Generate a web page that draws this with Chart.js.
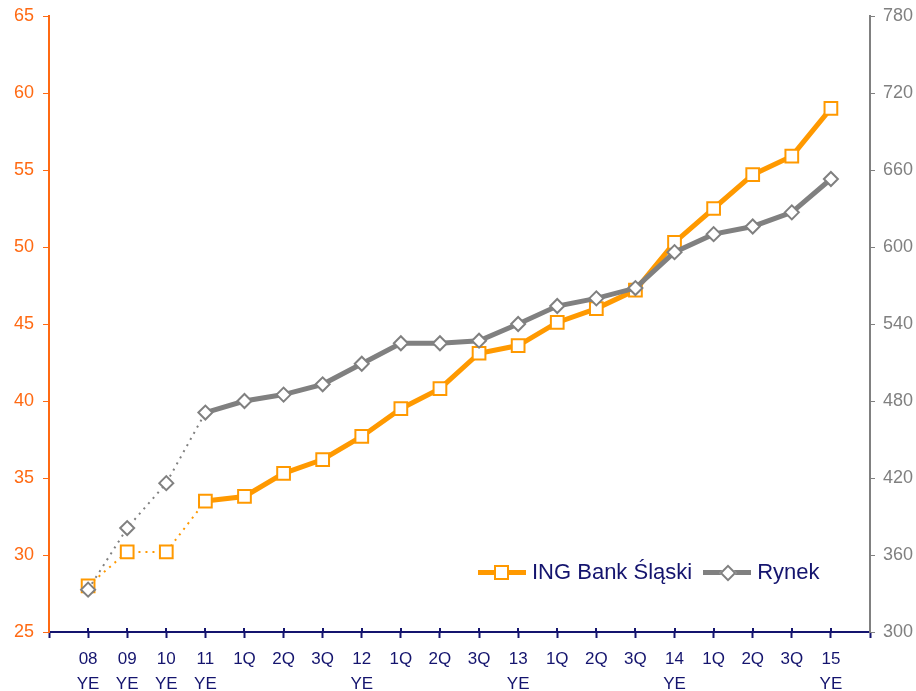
<!DOCTYPE html>
<html>
<head>
<meta charset="utf-8">
<script src="https://cdn.jsdelivr.net/npm/chart.js@4.4.1/dist/chart.umd.min.js"></script>
<style>
  html, body { margin: 0; padding: 0; background: #fff; }
  #wrap { position: relative; width: 916px; height: 691px; }
  #legend { position: absolute; left: 478px; top: 558px; height: 28px; display: flex; align-items: center;
            font-family: 'Liberation Sans', Arial, sans-serif; font-size: 22px; color: #14146e; white-space: nowrap; }
  .item { display: flex; align-items: center; margin-right: 11px; }
  .sym { position: relative; width: 48px; height: 28px; margin-right: 6px; }
  .sym .ln { position: absolute; left: 0; right: 0; top: 12px; height: 5px; }
  .sym .sq { position: absolute; left: 16px; top: 7px; width: 11px; height: 11px; background: #fff; border: 2px solid #FF9900; }
  .sym .dm { position: absolute; left: 19px; top: 9px; width: 8px; height: 8px; background: #fff; border: 2px solid #808080; transform: rotate(45deg); }
</style>
</head>
<body>
<div id="wrap">
  <canvas id="chart" width="916" height="691"></canvas>
  <div id="legend">
    <div class="item"><div class="sym"><div class="ln" style="background:#FF9900"></div><div class="sq"></div></div>ING Bank Śląski</div>
    <div class="item"><div class="sym"><div class="ln" style="background:#808080"></div><div class="dm"></div></div>Rynek</div>
  </div>
</div>
<script>
const PALETTE = {
    orange: '#FF9900',
    axisOrange: '#FF6A13',
    gray: '#808080',
    navy: '#14146e'
};
const FONT = "'Liberation Sans', Arial, sans-serif";

const periods = [['08', 'YE'], ['09', 'YE'], ['10', 'YE'], ['11', 'YE'], '1Q', '2Q', '3Q', ['12', 'YE'],
    '1Q', '2Q', '3Q', ['13', 'YE'], '1Q', '2Q', '3Q', ['14', 'YE'], '1Q', '2Q', '3Q', ['15', 'YE']];
const ingValues = [28.0, 30.2, 30.2, 33.5, 33.8, 35.3, 36.2, 37.7, 39.5, 40.8, 43.1, 43.6, 45.1, 46.0, 47.2,
    50.3, 52.5, 54.7, 55.9, 59.0];
const marketValues = [333, 381, 416, 471, 480, 485, 493, 509, 525, 525, 527, 540, 554, 560, 568,
    596, 610, 616, 627, 653];
const leftTicks = [25, 30, 35, 40, 45, 50, 55, 60, 65];
const rightTicks = [300, 360, 420, 480, 540, 600, 660, 720, 780];

// empty slot at each end so the first/last points sit one step in from the axes
const labels = [''].concat(periods, ['']);
const pad = arr => [null].concat(arr, [null]);

// the first three segments (08 YE -> 11 YE) are thin dotted lines
const isEarly = ctx => ctx.p0DataIndex < 4;

// x-axis tick marks cross the axis line (a bit above, a bit below)
const crossTicks = {
    id: 'crossTicks',
    afterDraw(chart) {
        const x = chart.scales.x;
        const ctx = chart.ctx;
        const y0 = chart.chartArea.bottom;
        ctx.save();
        ctx.strokeStyle = PALETTE.navy;
        ctx.lineWidth = 2;
        ctx.beginPath();
        for (let i = 1; i < labels.length - 1; i++) {
            const px = Math.round(x.getPixelForTick(i));
            ctx.moveTo(px, y0 - 4);
            ctx.lineTo(px, y0);
        }
        ctx.stroke();
        ctx.restore();
    }
};

const fixSide = width => s => {
    s.width = width;
    s.paddingTop = 0;
    s.paddingBottom = 0;
};

new Chart(document.getElementById('chart'), {
    type: 'line',
    data: {
        labels: labels,
        datasets: [{
            label: 'ING Bank Śląski',
            data: pad(ingValues),
            yAxisID: 'yLeft',
            borderColor: PALETTE.orange,
            borderWidth: 5,
            pointStyle: 'rect',
            pointRadius: 9,
            pointBorderWidth: 2,
            pointBackgroundColor: '#fff',
            pointBorderColor: PALETTE.orange,
            order: 1,
            segment: {
                borderDash: ctx => isEarly(ctx) ? [2, 5] : undefined,
                borderWidth: ctx => isEarly(ctx) ? 2 : undefined
            }
        }, {
            label: 'Rynek',
            data: pad(marketValues),
            yAxisID: 'yRight',
            borderColor: PALETTE.gray,
            borderWidth: 5,
            pointStyle: 'rectRot',
            pointRadius: 7,
            pointBorderWidth: 2,
            pointBackgroundColor: '#fff',
            pointBorderColor: PALETTE.gray,
            order: 0,
            segment: {
                borderDash: ctx => isEarly(ctx) ? [2, 5] : undefined,
                borderWidth: ctx => isEarly(ctx) ? 2 : undefined
            }
        }]
    },
    options: {
        responsive: false,
        animation: false,
        layout: { padding: { top: 16, left: 0, right: 0, bottom: 0 } },
        plugins: {
            legend: { display: false },
            tooltip: { enabled: false }
        },
        scales: {
            x: {
                grid: {
                    drawOnChartArea: false,
                    color: PALETTE.navy,
                    tickLength: 6,
                    tickWidth: 2
                },
                border: { color: PALETTE.navy, width: 2 },
                ticks: {
                    color: PALETTE.navy,
                    font: { family: FONT, size: 17, lineHeight: 1.45 },
                    maxRotation: 0,
                    autoSkip: false,
                    padding: 9
                },
                afterFit: s => {
                    s.height = 59;
                    s.paddingLeft = 0;
                    s.paddingRight = 0;
                }
            },
            yLeft: {
                position: 'left',
                min: 25,
                max: 65,
                afterBuildTicks: s => { s.ticks = leftTicks.map(v => ({ value: v })); },
                grid: {
                    drawOnChartArea: false,
                    color: PALETTE.axisOrange,
                    tickLength: 6
                },
                border: { color: PALETTE.axisOrange, width: 2 },
                ticks: {
                    color: PALETTE.axisOrange,
                    font: { family: FONT, size: 18 },
                    padding: 9
                },
                afterFit: fixSide(49)
            },
            yRight: {
                position: 'right',
                min: 300,
                max: 780,
                afterBuildTicks: s => { s.ticks = rightTicks.map(v => ({ value: v })); },
                grid: {
                    drawOnChartArea: false,
                    color: PALETTE.gray,
                    tickLength: 5
                },
                border: { color: PALETTE.gray, width: 2 },
                ticks: {
                    color: PALETTE.gray,
                    font: { family: FONT, size: 18 },
                    padding: 8
                },
                afterFit: fixSide(46)
            }
        }
    },
    plugins: [crossTicks]
});
</script>
</body>
</html>
